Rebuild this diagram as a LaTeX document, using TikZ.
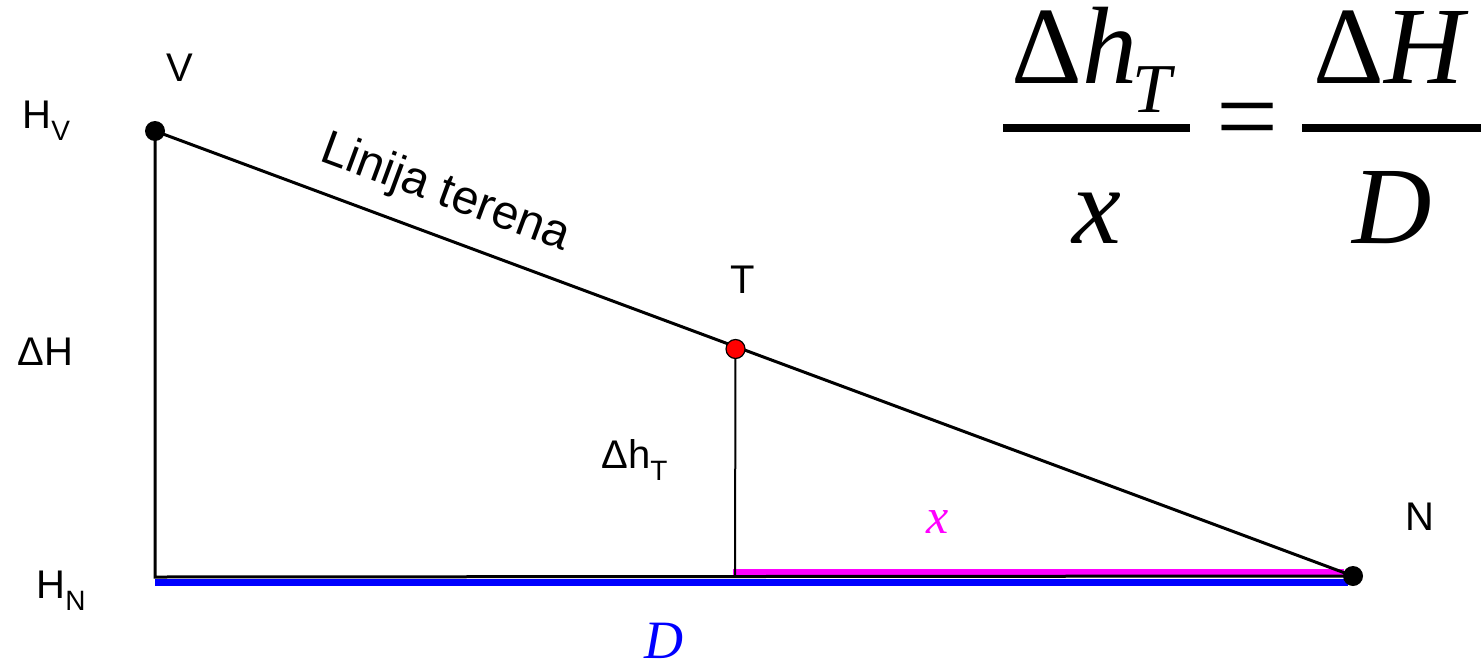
\documentclass[tikz,border=0pt]{standalone}
\usepackage{fontspec}
\setmainfont{Liberation Sans}
\newfontfamily\tms{Liberation Serif}
\usetikzlibrary{backgrounds}
\definecolor{mag}{RGB}{255,0,255}
\definecolor{blu}{RGB}{0,0,255}
\definecolor{rd}{RGB}{255,0,0}
\tikzset{
  dot/.style={circle,fill=black,inner sep=0pt,minimum size=10pt},
  reddot/.style={circle,fill=rd,draw=black,line width=0.6pt,inner sep=0pt,minimum size=9.5pt},
  lbl/.style={inner sep=0pt,font=\fontsize{20}{20}\selectfont},
  big/.style={inner sep=0pt,font=\tms\fontsize{55}{55}\selectfont},
  bigsub/.style={inner sep=0pt,font=\tms\itshape\fontsize{35}{35}\selectfont},
  mainline/.style={line width=1.5pt},
  thinline/.style={line width=1pt},
  barline/.style={line width=4pt}
}
\begin{document}
\begin{tikzpicture}[x=0.5pt,y=-0.5pt]
\useasboundingbox (0,0) rectangle (1481,664);
% points
\node[dot] (V) at (155,131) {};
\node[reddot] (T) at (735.5,349) {};
\node[dot] (N) at (1353,576) {};
\coordinate (C) at (155,577);
\coordinate (F) at (735,577);
\coordinate (B1) at (155,582);
\coordinate (B2) at (1348,582);
\coordinate (M1) at (733,572);
\coordinate (M2) at (1344,572);
\begin{scope}[on background layer]
  \draw[blu,line width=3.5pt] (B1) -- (B2);
  \draw[mag,line width=3pt] (M1) -- (M2);
  \draw[mainline,line join=miter] (V.center) -- (C) -- (N.center);
  \draw[mainline] (V.center) -- (N.center);
  \draw[thinline] (T.center) -- (F);
\end{scope}
% labels
\node[lbl] (lV) at (180,68) {V};
\node[lbl,anchor=base west] (lHV) at (22,128) {H\raisebox{-6pt}{\fontsize{14}{14}\selectfont V}};
\node[lbl,anchor=base west] (lDH) at (17,365) {ΔH};
\node[lbl,anchor=base west] (lHN) at (36,598) {H\raisebox{-6pt}{\fontsize{14}{14}\selectfont N}};
\node[lbl] (lT) at (743,280) {T};
\node[lbl,anchor=base west] (lDh) at (601,468) {Δh\raisebox{-6pt}{\fontsize{14}{14}\selectfont T}};
\node[lbl] (lN) at (1420,517) {N};
\node[inner sep=0pt,font=\fontsize{24}{24}\selectfont,rotate=-20.3] (lLin) at (445,194) {Linija terena};
\node[inner sep=0pt,font=\tms\itshape\fontsize{25}{25}\selectfont,text=mag] (lx) at (938,522) {x};
\node[inner sep=0pt,font=\tms\itshape\fontsize{27}{27}\selectfont,text=blu] (lD) at (664,641) {D};
% formula
\node[big,anchor=base west] (n1) at (1011,83) {Δ\textit{h}};
\node[bigsub,anchor=base west] (n1s) at (1132,112) {T};
\node[big,anchor=base] (d1) at (1097,243) {\textit{x}};
\node[big] (eq) at (1247,128) {=};
\node[big,anchor=base west] (n2) at (1313,83) {Δ\textit{H}};
\node[big,anchor=base] (d2) at (1392,243) {\textit{D}};
\draw[barline] (1003,128) -- (1190,128);
\draw[barline] (1302,128) -- (1481,128);
\end{tikzpicture}
\end{document}
